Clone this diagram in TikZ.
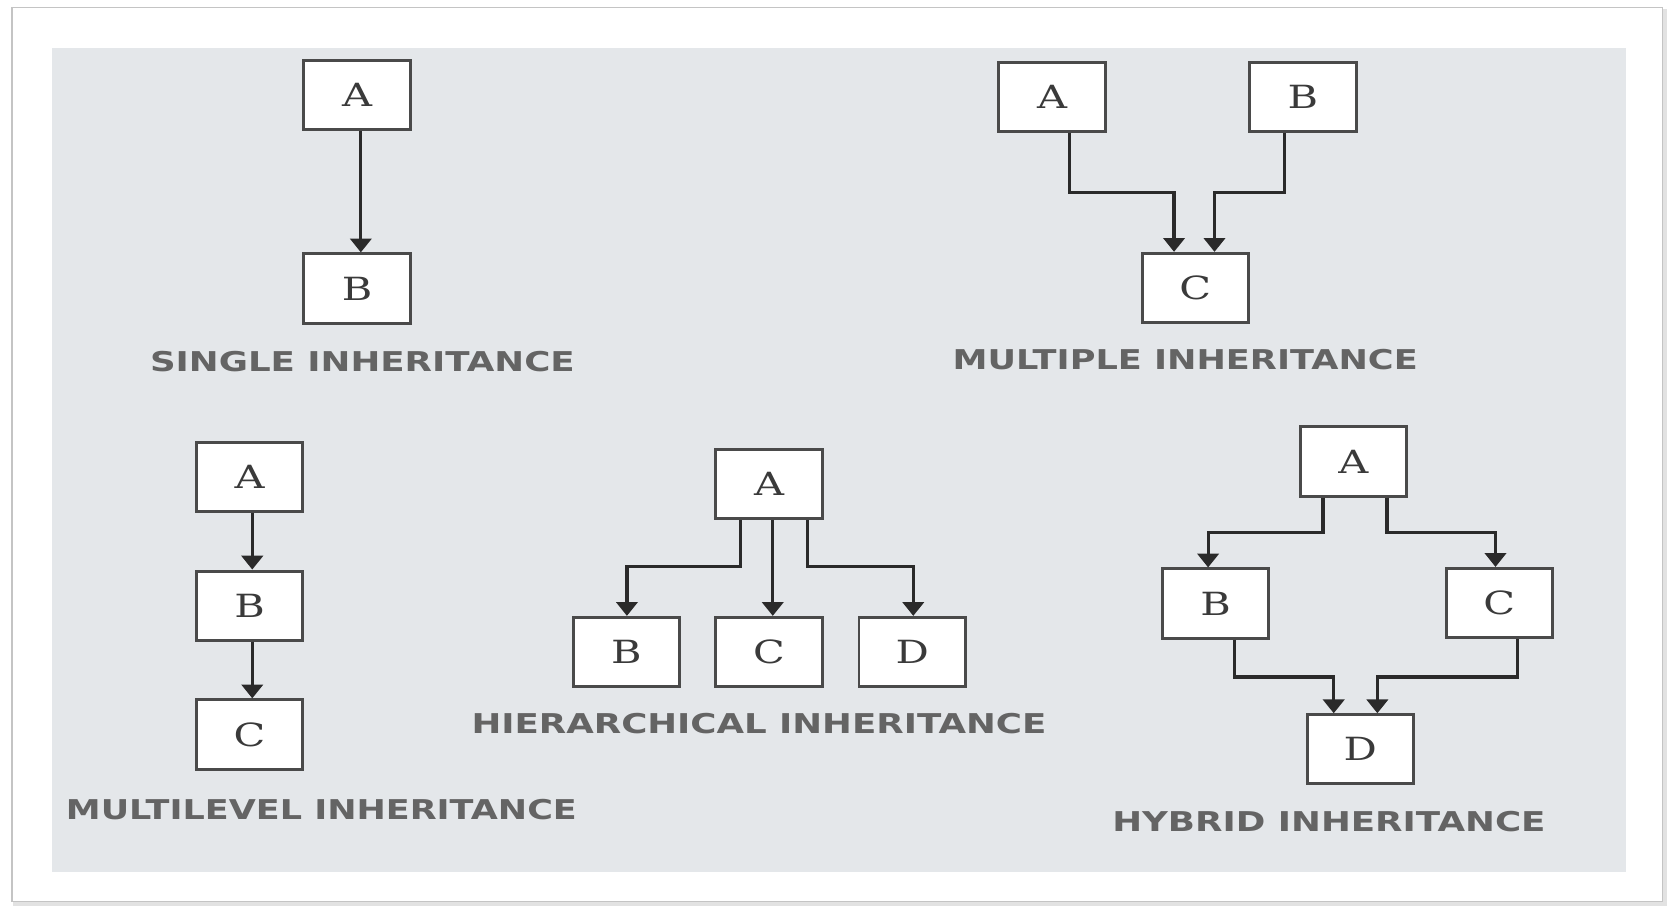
\documentclass[tikz,border=0pt]{standalone}
\usepackage{fontspec}
\usepackage{graphicx}
\usetikzlibrary{arrows.meta}
\newfontfamily\boxfont{DejaVu Serif}
\newfontfamily\lblfont{DejaVu Sans}
\definecolor{panel}{HTML}{E4E7EA}
\definecolor{framegray}{HTML}{C4C4C4}
\definecolor{shadowgray}{HTML}{E2E2E2}
\definecolor{boxgray}{HTML}{4A4A4A}
\definecolor{arrgray}{HTML}{2A2A2A}
\definecolor{lettergray}{HTML}{3A3A3A}
\definecolor{lblgray}{HTML}{646464}
\newcommand{\wideletter}[1]{\scalebox{1.3}[1]{#1}}
\newcommand{\lbltext}[2]{\resizebox{#1}{9.5pt}{\lblfont\bfseries #2}}
\begin{document}
\begin{tikzpicture}[x=0.5pt,y=-0.5pt,
  cls/.style={draw=boxgray, fill=white, line width=1.4pt,
    minimum width=50pt, minimum height=32.5pt, inner sep=0pt,
    font=\boxfont\fontsize{15}{15}\selectfont, text=lettergray},
  arr/.style={draw=arrgray, line width=1.5pt,
    -{Triangle[width=10pt,length=6.5pt]}},
  lbl/.style={inner sep=0pt, text=lblgray}]
\useasboundingbox (0,0) rectangle (1568,851);
% frame and panel
\draw[shadowgray, line width=2pt] (14,10) rectangle (1564,849);
\draw[framegray, line width=0.8pt, fill=white] (11,7) rectangle (1562,847);
\fill[panel] (49,45) rectangle (1528,819);

% ---------- single inheritance ----------
\node[cls] (sA) at (335.5,89) {\wideletter{A}};
\node[cls] (sB) at (335.5,271) {\wideletter{B}};
\draw[arr] (339,0 |- sA.south) -- (339,0 |- sB.north);
\node[lbl] (lS) at (340.5,340) {\lbltext{199.5pt}{SINGLE INHERITANCE}};

% ---------- multiple inheritance ----------
\node[cls] (mA) at (988.5,91) {\wideletter{A}};
\node[cls] (mB) at (1224,91) {\wideletter{B}};
\node[cls] (mC) at (1123,270.5) {\wideletter{C}};
\draw[arr] (1005,0 |- mA.south) |- (1103,181) -- (1103,0 |- mC.north);
\draw[arr] (1207,0 |- mB.south) |- (1141,181) -- (1141,0 |- mC.north);
\node[lbl] (lM) at (1113.5,338) {\lbltext{218.5pt}{MULTIPLE INHERITANCE}};

% ---------- multilevel inheritance ----------
\node[cls] (lA) at (234.5,448) {\wideletter{A}};
\node[cls] (lB) at (234.5,569) {\wideletter{B}};
\node[cls] (lC) at (234.5,690) {\wideletter{C}};
\draw[arr] (237,0 |- lA.south) -- (237,0 |- lB.north);
\draw[arr] (237,0 |- lB.south) -- (237,0 |- lC.north);
\node[lbl] (lL) at (302,761) {\lbltext{240pt}{MULTILEVEL INHERITANCE}};

% ---------- hierarchical inheritance ----------
\node[cls] (hA) at (722.5,455) {\wideletter{A}};
\node[cls] (hB) at (588.5,612.5) {\wideletter{B}};
\node[cls] (hC) at (722.5,612.5) {\wideletter{C}};
\node[cls] (hD) at (857,612.5) {\wideletter{D}};
\draw[arr] (696,0 |- hA.south) |- (589,532) -- (589,0 |- hB.north);
\draw[arr] (726,0 |- hA.south) -- (726,0 |- hC.north);
\draw[arr] (759,0 |- hA.south) |- (858,532) -- (858,0 |- hD.north);
\node[lbl] (lH) at (713,680) {\lbltext{270pt}{HIERARCHICAL INHERITANCE}};

% ---------- hybrid inheritance ----------
\node[cls] (yA) at (1271.5,433.5) {\wideletter{A}};
\node[cls] (yB) at (1142,567) {\wideletter{B}};
\node[cls] (yC) at (1408.5,566.5) {\wideletter{C}};
\node[cls] (yD) at (1278,704) {\wideletter{D}};
\draw[arr] (1243,0 |- yA.south) |- (1135,500) -- (1135,0 |- yB.north);
\draw[arr] (1303,0 |- yA.south) |- (1405,500) -- (1405,0 |- yC.north);
\draw[arr] (1160,0 |- yB.south) |- (1253,636) -- (1253,0 |- yD.north);
\draw[arr] (1426,0 |- yC.south) |- (1294,636) -- (1294,0 |- yD.north);
\node[lbl] (lY) at (1248.5,772) {\lbltext{203.5pt}{HYBRID INHERITANCE}};
\end{tikzpicture}
\end{document}
